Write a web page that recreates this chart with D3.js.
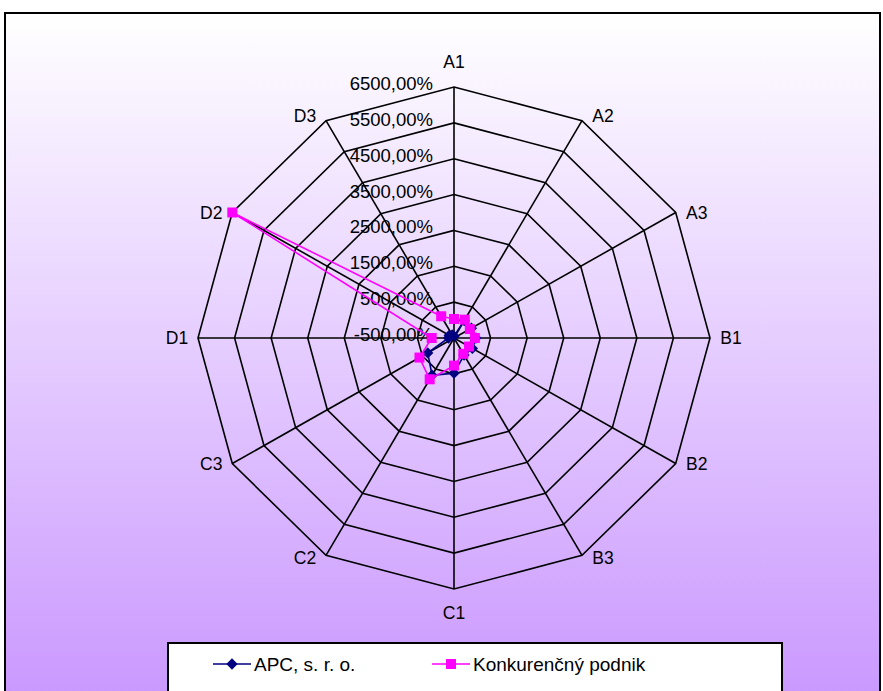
<!DOCTYPE html>
<html>
<head>
<meta charset="utf-8">
<script src="https://cdn.jsdelivr.net/npm/d3@7"></script>
<style>
  html, body { margin: 0; padding: 0; background: #ffffff; }
  svg { display: block; font-family: "Liberation Sans", Arial, sans-serif; }
</style>
</head>
<body>
<svg id="chart" width="883" height="691"></svg>
<script>
// Radar chart: APC, s. r. o. vs. competitor, twelve indicators
const axes = ["A1", "A2", "A3", "B1", "B2", "B3", "C1", "C2", "C3", "D1", "D2", "D3"];
const apcValues = [-450, 60, 50, 100, 80, 50, 480, 700, 330, -350, -350, -400];
const konkValues = [30, 90, 0, 70, -25, 10, 270, 830, 590, 110, 6500, 200];
const tickValues = [-500, 500, 1500, 2500, 3500, 4500, 5500, 6500];
const seriesNames = ["APC, s. r. o.", "Konkurenčný podnik"];

const svg = d3.select("#chart");
const cx = 454, cy = 338;
const rx = 256, ry = 251;

// background gradient of the chart area
const defs = svg.append("defs");
const grad = defs.append("linearGradient")
  .attr("id", "bg").attr("x1", 0).attr("y1", 0).attr("x2", 0).attr("y2", 1);
grad.append("stop").attr("offset", "0%").attr("stop-color", "#ffffff");
grad.append("stop").attr("offset", "100%").attr("stop-color", "#c996ff");

svg.append("rect")
  .attr("x", 5).attr("y", 13).attr("width", 875).attr("height", 700)
  .attr("fill", "url(#bg)").attr("stroke", "#000").attr("stroke-width", 2);

// radial scales (horizontal and vertical extent)
const rX = d3.scaleLinear().domain([-500, 6500]).range([0, rx]);
const rY = d3.scaleLinear().domain([-500, 6500]).range([0, ry]);
const angle = d3.scalePoint().domain(axes).range([0, 2 * Math.PI * (axes.length - 1) / axes.length]);

const px = (a, v) => cx + rX(v) * Math.sin(angle(a));
const py = (a, v) => cy - rY(v) * Math.cos(angle(a));

const grid = svg.append("g");

// concentric polygons
tickValues.slice(1).forEach(t => {
  const pts = axes.map(a => [px(a, t), py(a, t)]);
  grid.append("path")
    .attr("d", d3.line()(pts) + "Z")
    .attr("fill", "none").attr("stroke", "#000").attr("stroke-width", 1.6);
});

// spokes
const maxV = tickValues[tickValues.length - 1];
axes.forEach(a => {
  grid.append("line")
    .attr("x1", cx).attr("y1", cy)
    .attr("x2", px(a, maxV)).attr("y2", py(a, maxV))
    .attr("stroke", "#000").attr("stroke-width", 1.6);
});

// category labels
axes.forEach(a => {
  const th = angle(a);
  const s = Math.sin(th), c = Math.cos(th);
  let dx = 0, dy = 0;
  if (Math.abs(s) < 0.01) { dy = c > 0 ? -25 : 24; }
  else {
    dx = (s > 0 ? 1 : -1) * 21;
    dy = c > 0.8 ? -5 : (c < -0.8 ? 3 : 0);
  }
  svg.append("text")
    .attr("x", px(a, maxV) + dx).attr("y", py(a, maxV) + dy)
    .attr("text-anchor", "middle").attr("dominant-baseline", "central")
    .attr("font-size", 17.5).attr("fill", "#000")
    .text(a);
});

// value tick labels along A1
const fmt = v => d3.format(".2f")(v).replace(".", ",").replace("\u2212", "-") + "%";
tickValues.forEach(t => {
  svg.append("text")
    .attr("x", cx - 21).attr("y", py(axes[0], t) - 3.5)
    .attr("text-anchor", "end").attr("dominant-baseline", "central")
    .attr("font-size", 18.5).attr("fill", "#000")
    .text(fmt(t));
});

// series
const series = [
  { name: seriesNames[0], values: apcValues, color: "#000080", marker: "diamond" },
  { name: seriesNames[1], values: konkValues, color: "#ff00ff", marker: "square" }
];

const markerPath = m => d3.symbol().type(d3.symbolSquare).size(m === "diamond" ? 64 : 100)();
const markerRot = m => (m === "diamond" ? " rotate(45)" : "");

series.forEach(s => {
  const pts = axes.map((a, i) => [px(a, s.values[i]), py(a, s.values[i])]);
  svg.append("path")
    .attr("d", d3.line()(pts) + "Z")
    .attr("fill", "none").attr("stroke", s.color).attr("stroke-width", 1.6);
  svg.append("g").selectAll("path").data(pts).join("path")
    .attr("d", markerPath(s.marker))
    .attr("transform", d => `translate(${d[0]},${d[1]})` + markerRot(s.marker))
    .attr("fill", s.color);
});

// legend
const lg = svg.append("g");
lg.append("rect")
  .attr("x", 168).attr("y", 643).attr("width", 614).attr("height", 70)
  .attr("fill", "#ffffff").attr("stroke", "#000").attr("stroke-width", 2);
const legendItems = [
  { s: series[0], x: 213 },
  { s: series[1], x: 432 }
];
const ly = 664;
legendItems.forEach(it => {
  lg.append("line")
    .attr("x1", it.x).attr("x2", it.x + 38).attr("y1", ly).attr("y2", ly)
    .attr("stroke", it.s.color).attr("stroke-width", 1.6);
  lg.append("path")
    .attr("d", markerPath(it.s.marker))
    .attr("transform", `translate(${it.x + 19},${ly})` + markerRot(it.s.marker))
    .attr("fill", it.s.color);
  lg.append("text")
    .attr("x", it.x + 41).attr("y", ly)
    .attr("dominant-baseline", "central")
    .attr("font-size", 19).attr("fill", "#000")
    .text(it.s.name);
});
</script>
</body>
</html>
